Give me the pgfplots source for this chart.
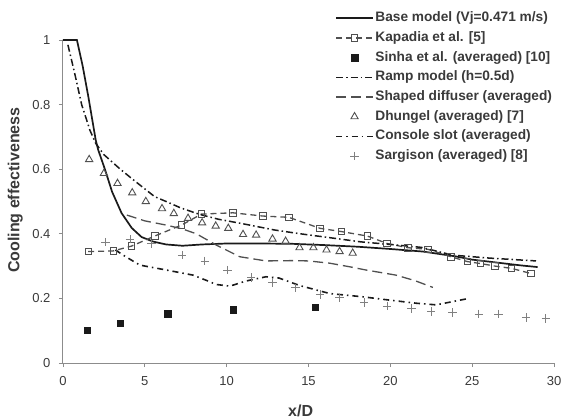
\documentclass[border=0pt]{standalone}
\usepackage{pgfplots}
\pgfplotsset{compat=1.18}
\usepackage{fontspec}
\setmainfont{Liberation Sans}
\definecolor{axgray}{HTML}{8C8C8C}
\definecolor{txtgray}{HTML}{3A3A3A}
\definecolor{lnblack}{HTML}{1A1A1A}
\definecolor{lngray}{HTML}{505050}
\begin{document}
\begin{tikzpicture}
\useasboundingbox (-63bp,-56bp) rectangle (499bp,363bp);
\begin{axis}[
  scale only axis,
  width=491bp, height=323bp,
  xmin=0, xmax=30, ymin=0, ymax=1,
  axis x line*=bottom, axis y line*=left,
  axis line style={axgray, line width=1bp},
  xtick={0,5,...,30}, ytick={0,0.2,...,1},
  yticklabels={0,0.2,0.4,0.6,0.8,1},
  tick align=outside, major tick length=4bp,
  tick style={axgray, line width=0.8bp},
  ticklabel style={font=\fontsize{13bp}{15bp}\selectfont, text=txtgray},
  xticklabel style={yshift=-6bp},
  yticklabel style={xshift=-5bp},
  /pgf/number format/assume math mode=true,
  xlabel={\bfseries x/D}, ylabel={\bfseries Cooling effectiveness},
  label style={font=\fontsize{16bp}{18bp}\selectfont, text=txtgray},
  xlabel style={at={(axis description cs:0.484,0)}, anchor=north, yshift=-38bp},
  ylabel style={at={(axis description cs:-0.075,0.535)}, anchor=south},
  legend cell align=left,
  legend style={at={(272bp,353bp)}, anchor=north west, draw=none, fill=none,
    font=\fontsize{13.7bp}{16bp}\selectfont\bfseries, text=txtgray,
    inner sep=0pt, row sep=3.7bp,
    nodes={inner sep=1.5bp, text height=10bp, text depth=3bp}},
  legend image code/.code={
    \draw[#1, mark repeat=2, mark phase=2] plot coordinates {(0bp,0bp) (18.5bp,0bp) (37bp,0bp)};},
]
\addplot[lnblack, line width=1.7bp] coordinates {
(0,1)(0.85,1)(1.2,0.92)(1.55,0.824)(2.0,0.69)(2.15,0.66)(2.56,0.6)(3.0,0.53)(3.58,0.464)(4.2,0.418)(4.8,0.39)(5.5,0.376)(6.3,0.367)(7.3,0.363)(8.5,0.367)(10,0.37)(12,0.37)(14,0.369)(16,0.365)(18,0.36)(20,0.353)(22,0.345)(24,0.33)(25,0.32)(26,0.314)(27,0.308)(28,0.302)(29,0.297)};
\addlegendentry{Base model (Vj=0.471 m/s)}
\addplot[lngray, line width=1.3bp, dash pattern=on 6bp off 4bp, mark=square, mark size=3.3bp, mark options={solid, line width=0.8bp, lngray}] coordinates {
(1.54,0.345)(3.07,0.347)(4.19,0.362)(5.6,0.393)(7.24,0.427)(8.46,0.461)(10.38,0.465)(12.2,0.455)(13.8,0.451)(15.7,0.417)(17.0,0.407)(18.6,0.393)(19.8,0.37)(21.06,0.357)(22.3,0.352)(23.7,0.329)(24.7,0.314)(25.5,0.308)(26.4,0.30)(27.4,0.293)(28.6,0.277)};
\addlegendentry{Kapadia et al. [5]}
\addplot[only marks, mark=square*, mark size=3.3bp, mark options={lnblack, fill=lnblack}] coordinates {
(1.48,0.101)(3.5,0.123)(6.4,0.153)(10.4,0.165)(15.4,0.173)};
\addlegendentry{Sinha et al. (averaged) [10]}
\addplot[lnblack, line width=1.5bp, dash pattern=on 7bp off 3bp on 1.5bp off 3bp] coordinates {
(0.3,0.985)(0.7,0.9)(1.14,0.8)(1.65,0.72)(2.0,0.68)(2.5,0.645)(3.5,0.6)(4.3,0.567)(5.6,0.515)(6.3,0.5)(7.2,0.48)(8.35,0.46)(9.5,0.445)(10.9,0.432)(12.9,0.412)(14.5,0.40)(16.3,0.388)(18.2,0.375)(20,0.367)(21.9,0.358)(23.8,0.334)(26,0.325)(28.9,0.316)};
\addlegendentry{Ramp model (h=0.5d)}
\addplot[lngray, line width=1.3bp, dash pattern=on 10bp off 5bp] coordinates {
(3.9,0.458)(5,0.44)(6.3,0.427)(7.3,0.415)(8.15,0.40)(9.37,0.365)(10.8,0.329)(12.4,0.316)(14.0,0.317)(15,0.316)(16.3,0.309)(17.5,0.298)(18.5,0.288)(20.35,0.272)(21.5,0.255)(22.6,0.234)};
\addlegendentry{Shaped diffuser (averaged)}
\addplot[only marks, mark=triangle, mark size=4.2bp, mark options={lngray, line width=0.9bp}] coordinates {
(1.6,0.63)(2.5,0.587)(3.33,0.556)(4.23,0.527)(5.06,0.50)(6.05,0.478)(6.77,0.463)(7.64,0.448)(8.5,0.434)(9.33,0.424)(10.1,0.417)(11.0,0.398)(11.8,0.396)(12.8,0.384)(13.6,0.377)(14.45,0.357)(15.3,0.357)(16.1,0.35)(16.9,0.345)(17.7,0.34)};
\addlegendentry{Dhungel (averaged) [7]}
\addplot[lnblack, line width=1.6bp, dash pattern=on 6bp off 4bp on 1.5bp off 4bp] coordinates {
(3.2,0.35)(3.8,0.33)(4.7,0.303)(6.3,0.288)(7.95,0.272)(8.8,0.255)(9.37,0.243)(10.2,0.238)(11.2,0.254)(12.4,0.267)(13.2,0.263)(14.45,0.24)(16.3,0.215)(18.3,0.205)(19.9,0.195)(21.6,0.185)(22.8,0.18)(24.0,0.192)(24.8,0.2)};
\addlegendentry{Console slot (averaged)}
\addplot[only marks, mark=+, mark size=4.2bp, mark options={gray, line width=0.8bp}] coordinates {
(2.6,0.374)(4.09,0.383)(5.41,0.369)(7.27,0.334)(8.66,0.316)(10.04,0.288)(11.5,0.265)(12.8,0.249)(14.2,0.233)(15.7,0.212)(16.9,0.202)(18.4,0.187)(19.8,0.176)(21.3,0.169)(22.5,0.159)(23.8,0.156)(25.4,0.152)(26.6,0.152)(28.3,0.141)(29.5,0.138)};
\addlegendentry{Sargison (averaged) [8]}
\end{axis}
\end{tikzpicture}
\end{document}
